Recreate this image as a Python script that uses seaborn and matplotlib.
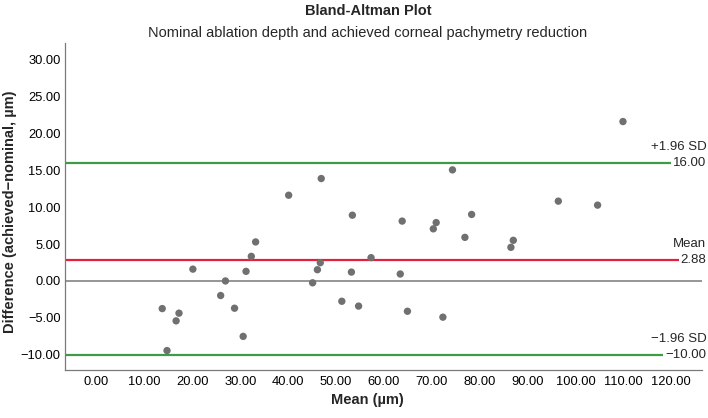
import matplotlib
matplotlib.use('Agg')
import numpy as np
import pandas as pd
import seaborn as sns
import matplotlib.pyplot as plt

# Values
mean_um = [13.7, 14.7, 16.6, 17.2, 20.1, 25.9, 26.9, 28.8, 30.6, 31.2, 32.3, 33.2,
           40.1, 45.1, 46.1, 46.7, 46.9, 51.2, 53.2, 53.4, 54.7, 57.3, 63.4, 63.8,
           64.9, 70.3, 70.9, 72.3, 74.3, 76.9, 78.3, 86.5, 87.0, 96.4, 104.6, 109.9]
diff_um = [-3.74, -9.42, -5.4, -4.36, 1.6, -1.97, 0.0, -3.69, -7.5, 1.3, 3.33, 5.28,
           11.6, -0.25, 1.52, 2.47, 13.86, -2.75, 1.2, 8.9, -3.4, 3.15, 0.94, 8.1,
           -4.1, 7.05, 7.9, -4.9, 15.03, 5.9, 9.0, 4.55, 5.5, 10.8, 10.26, 21.57]

mean_diff = 2.88
upper_loa = 16.00
lower_loa = -10.00

x_ticks = list(range(0, 121, 10))
y_ticks = list(range(-10, 31, 5))

data = pd.DataFrame({'mean': mean_um, 'diff': diff_um})

sns.set_style('white')
plt.rcParams['font.family'] = ['Liberation Sans', 'DejaVu Sans']


def fmt(v):
    s = f'{abs(v):.2f}'
    return '\u2212' + s if v < 0 else s


fig = plt.figure(figsize=(7.08, 4.18), dpi=100)
ax = fig.add_axes([65 / 708, 48 / 418, 637 / 708, 327 / 418])

x_lo, x_hi = -6.6, 126.4

# reference lines (they stop where their value labels start)
ax.axhline(0, color='#8e8e8e', lw=1.3, zorder=1)
ax.hlines(upper_loa, x_lo, 120, color='#3f9b45', lw=1.6, zorder=1)
ax.hlines(lower_loa, x_lo, 118.3, color='#3f9b45', lw=1.6, zorder=1)
ax.hlines(mean_diff, x_lo, 121.5, color='#e3203f', lw=1.6, zorder=1)

sns.scatterplot(data=data, x='mean', y='diff', color='#707070', s=28,
                edgecolor='none', ax=ax, zorder=3)

ax.set_xlim(x_lo, x_hi)
ax.set_ylim(-12.05, 32.2)
ax.set_xticks(x_ticks)
ax.set_xticklabels([fmt(v) for v in x_ticks])
ax.set_yticks(y_ticks)
ax.set_yticklabels([fmt(v) for v in y_ticks])
ax.tick_params(axis='both', direction='in', colors='#9a9a9a', labelcolor='black',
               labelsize=9.3, width=0.8)
ax.tick_params(axis='y', length=7, pad=3)
ax.tick_params(axis='x', length=5, pad=4)
ax.set_xlabel('')
ax.set_ylabel('')

for side in ['top', 'right']:
    ax.spines[side].set_visible(False)
for side in ['left', 'bottom']:
    ax.spines[side].set_color('#7a7a7a')
    ax.spines[side].set_linewidth(0.9)

# labels for the reference lines
tr = ax.get_yaxis_transform()
for val, name in [(upper_loa, '+1.96 SD'), (mean_diff, 'Mean'), (lower_loa, '\u22121.96 SD')]:
    ax.annotate(fmt(val), xy=(1.007, val), xycoords=tr, ha='right', va='center',
                fontsize=9.5, annotation_clip=False)
    ax.annotate(name, xy=(1.007, val), xycoords=tr, xytext=(0, 11.5),
                textcoords='offset points', ha='right', va='center',
                fontsize=9.5, annotation_clip=False)

fig.text(368 / 708, 1 - 11 / 418, 'Bland-Altman Plot', ha='center', va='center',
         fontsize=10.5, fontweight='bold')
fig.text(368 / 708, 1 - 33 / 418,
         'Nominal ablation depth and achieved corneal pachymetry reduction',
         ha='center', va='center', fontsize=10.5)
fig.text(367 / 708, 1 - 400 / 418, 'Mean (\u00b5m)', ha='center', va='center',
         fontsize=10.5, fontweight='bold')
fig.text(10 / 708, 206 / 418, 'Difference (achieved\u2212nominal, \u00b5m)',
         ha='center', va='center', rotation=90, fontsize=10.5, fontweight='bold')

plt.savefig('out.png', dpi=100)
